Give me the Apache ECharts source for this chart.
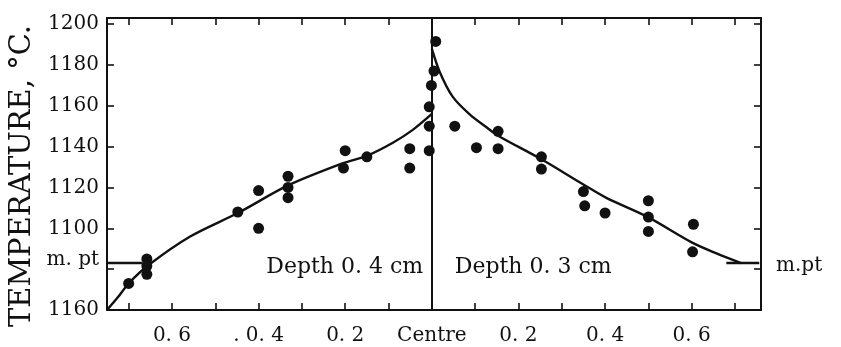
<!DOCTYPE html>
<html>
<head>
<meta charset="utf-8">
<script src="https://cdn.jsdelivr.net/npm/echarts@6/dist/echarts.min.js"></script>
<style>
html,body{margin:0;padding:0;background:#fff;}
#chart{width:841px;height:347px;}
</style>
</head>
<body>
<div id="chart"></div>
<script>
// ---- data (depth in cm from centre, temperature in °C) ----
var meltingPoint = 1083;
var xTickValues = [-0.7,-0.6,-0.5,-0.4,-0.3,-0.2,-0.1,0.1,0.2,0.3,0.4,0.5,0.6,0.7];
var xLabelValues = [-0.6,-0.4,-0.2,0,0.2,0.4,0.6];
var xLabelTexts = ['0. 6','. 0. 4','0. 2','Centre','0. 2','0. 4','0. 6'];
var yTickValues = [1060,1080,1100,1120,1140,1160,1180,1200];
var yLabelValues = [1060,1100,1120,1140,1160,1180,1200];
var yLabelTexts = ['1160','1100','1120','1140','1160','1180','1200'];

// left half: depth 0.4 cm
var leftDepth = [0.70,0.658,0.658,0.658,0.448,0.40,0.40,0.332,0.332,0.332,0.200,0.204,0.150,0.051,0.051,0.006,0.006,0.006,0.001];
var leftTemp  = [1073,1085,1081.5,1077.5,1108,1118.5,1100,1125.5,1120,1115,1138,1129.5,1135,1139,1129.5,1138,1150,1159.5,1170];
// right half: depth 0.3 cm
var rightDepth = [0.005,0.009,0.053,0.103,0.153,0.153,0.253,0.253,0.350,0.353,0.400,0.500,0.500,0.500,0.604,0.602];
var rightTemp  = [1177,1191.5,1150,1139.5,1147.5,1139,1135,1129,1118,1111,1107.5,1113.5,1105.5,1098.5,1102,1088.5];

// fitted curves
var leftCurveDepth = [0.75,0.725,0.70,0.654,0.558,0.447,0.332,0.205,0.150,0.090,0.044,0.0];
var leftCurveTemp  = [1060,1066.2,1073,1082,1096,1107.6,1121,1131.9,1135.5,1141.9,1148.2,1156];
var rightCurveDepth = [0.0,0.018,0.048,0.088,0.127,0.152,0.253,0.348,0.403,0.498,0.601,0.660,0.714];
var rightCurveTemp  = [1188,1176.7,1164.5,1155.7,1149.4,1145.5,1133.8,1121.7,1114.9,1105.6,1093,1087.5,1083];

// melting point markers (depth extents)
var leftMpDepth = [0.75,0.668];
var rightMpDepth = [0.68,0.756];

var font = 'DejaVu Serif';
var ink = '#111111';

function pairs(d, t, sign){ return d.map(function(v,i){ return [sign*v, t[i]]; }); }
var xMap = {}; xLabelValues.forEach(function(v,i){ xMap[v.toFixed(1)] = xLabelTexts[i]; });
var yMap = {}; yLabelValues.forEach(function(v,i){ yMap[v] = yLabelTexts[i]; });

var chart = echarts.init(document.getElementById('chart'), null, {renderer:'canvas'});
var axisLineStyle = {color: ink, width: 2};
var tickStyle = {color: ink, width: 1.6};

var option = {
  backgroundColor: '#ffffff',
  animation: false,
  grid: {left:107, right:80, top:18, bottom:37},
  xAxis: [{
    type:'value', min:-0.75, max:0.76, position:'bottom',
    axisLine:{show:true, onZero:false, lineStyle:axisLineStyle},
    axisTick:{show:true, inside:true, length:7, customValues:xTickValues, lineStyle:tickStyle},
    axisLabel:{show:true, customValues:xLabelValues, margin:16, color:ink,
      fontFamily:font, fontSize:20,
      formatter:function(v){ var k=(+v).toFixed(1); return xMap[k]!==undefined?xMap[k]:''; }},
    splitLine:{show:false}
  },{
    type:'value', min:-0.75, max:0.76, position:'top',
    axisLine:{show:true, onZero:false, lineStyle:axisLineStyle},
    axisTick:{show:true, inside:true, length:7, customValues:xTickValues, lineStyle:tickStyle},
    axisLabel:{show:false}, splitLine:{show:false}
  }],
  yAxis: [{
    type:'value', min:1060, max:1203, position:'left',
    axisLine:{show:true, onZero:false, lineStyle:axisLineStyle},
    axisTick:{show:true, inside:true, length:7, customValues:yTickValues, lineStyle:tickStyle},
    axisLabel:{show:true, customValues:yLabelValues, margin:8, color:ink,
      fontFamily:font, fontSize:20,
      formatter:function(v){ return yMap[v]!==undefined?yMap[v]:''; }},
    splitLine:{show:false}
  },{
    type:'value', min:1060, max:1203, position:'right',
    axisLine:{show:true, onZero:false, lineStyle:axisLineStyle},
    axisTick:{show:true, inside:true, length:7, customValues:yTickValues, lineStyle:tickStyle},
    axisLabel:{show:false}, splitLine:{show:false}
  }],
  graphic: [{
    type:'text', x:22, y:176, rotation:Math.PI/2,
    style:{text:'TEMPERATURE, °C.', fill:ink, font:'29px "DejaVu Serif"',
      textAlign:'center', textVerticalAlign:'middle'}
  }],
  series: [
    {type:'line', name:'leftCurve', data:pairs(leftCurveDepth,leftCurveTemp,-1),
     smooth:0.3, showSymbol:false, symbol:'none',
     lineStyle:{color:ink, width:2.4}, z:3,
     markLine:{silent:true, symbol:'none', label:{show:false},
       lineStyle:{color:ink, width:2, type:'solid', opacity:1}, data:[{xAxis:0}]}},
    {type:'line', name:'rightCurve', data:pairs(rightCurveDepth,rightCurveTemp,1),
     smooth:0.3, showSymbol:false, symbol:'none',
     lineStyle:{color:ink, width:2.4}, z:3},
    {type:'line', name:'mpLeft', data:[[-leftMpDepth[0],meltingPoint],[-leftMpDepth[1],meltingPoint]],
     symbol:'none', lineStyle:{color:ink, width:2.6}, z:3},
    {type:'line', name:'mpRight', data:[[rightMpDepth[0],meltingPoint],[rightMpDepth[1],meltingPoint]],
     symbol:'none', lineStyle:{color:ink, width:2.6}, z:3},
    {type:'scatter', name:'leftPts', data:pairs(leftDepth,leftTemp,-1),
     symbol:'circle', symbolSize:11, itemStyle:{color:ink, opacity:1}, z:4},
    {type:'scatter', name:'rightPts', data:pairs(rightDepth,rightTemp,1),
     symbol:'circle', symbolSize:11, itemStyle:{color:ink, opacity:1}, z:4},
    {type:'scatter', name:'notes', symbolSize:0, silent:true, z:5,
     itemStyle:{opacity:1},
     data:[
       {value:[-0.75, meltingPoint+1.5], label:{show:true, position:'left', distance:8, formatter:'m. pt',
         fontFamily:font, fontSize:20, color:ink}},
       {value:[0.76, meltingPoint-1.5], label:{show:true, position:'right', distance:15, formatter:'m.pt',
         fontFamily:font, fontSize:20, color:ink}},
       {value:[-0.02, 1081], label:{show:true, position:'left', distance:0, formatter:'Depth 0. 4 cm',
         fontFamily:font, fontSize:22, color:ink}},
       {value:[0.053, 1081], label:{show:true, position:'right', distance:0, formatter:'Depth 0. 3 cm',
         fontFamily:font, fontSize:22, color:ink}}
     ]}
  ]
};
chart.setOption(option);
</script>
</body>
</html>
